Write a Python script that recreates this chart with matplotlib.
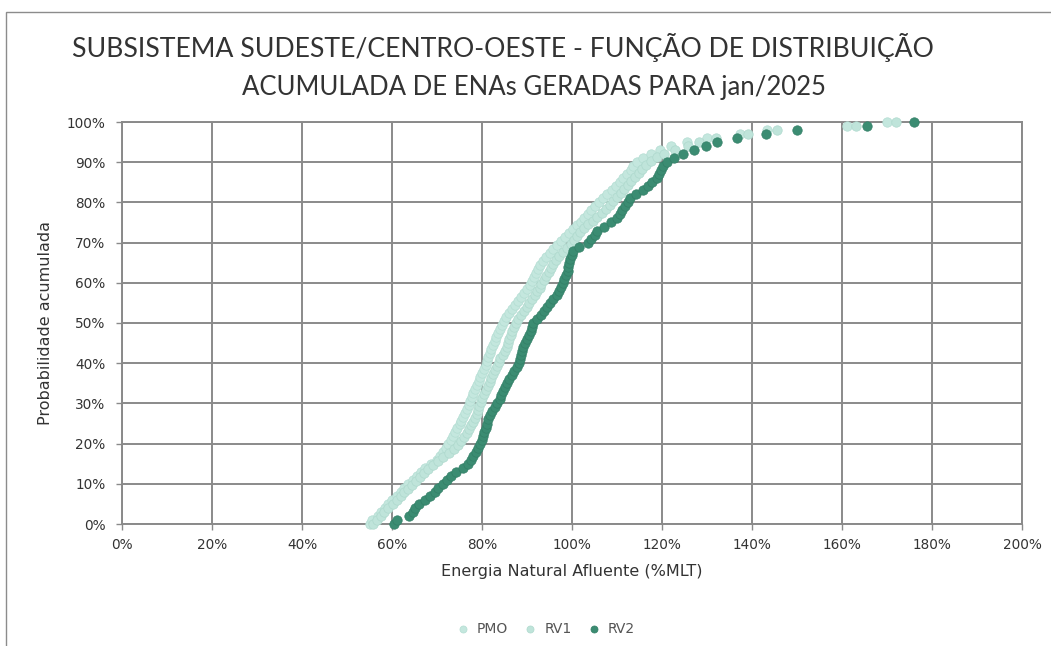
import numpy as np
import matplotlib.pyplot as plt
from matplotlib.patches import Rectangle

# valores de ENA (%MLT) ordenados, um por cenário
pmo = [55.0, 55.6, 56.8, 57.6, 58.4, 59.2, 60.1, 61.0, 61.9, 62.7,
       63.6, 64.6, 65.6, 66.5, 67.4, 68.7, 69.9, 70.6, 71.3, 71.9,
       72.5, 73.0, 73.5, 74.0, 74.5, 75.0, 75.4, 75.8, 76.2, 76.6,
       77.0, 77.4, 77.8, 78.1, 78.5, 78.9, 79.3, 79.6, 80.0, 80.4,
       80.8, 81.1, 81.4, 81.8, 82.1, 82.4, 82.8, 83.2, 83.6, 84.0,
       84.4, 84.8, 85.4, 86.0, 86.6, 87.3, 87.9, 88.6, 89.3, 90.0,
       90.6, 91.1, 91.6, 92.0, 92.4, 92.9, 93.5, 94.2, 95.0, 95.8,
       96.6, 97.6, 98.5, 99.4, 100.3, 101.2, 101.9, 102.7, 103.5, 104.3,
       105.2, 106.1, 106.9, 107.8, 108.8, 109.7, 110.6, 111.4, 112.2, 113.0,
       113.5, 114.5, 115.8, 117.5, 119.6, 122.0, 125.5, 130.0, 137.3, 143.3,
       161.0, 170.0]
rv1 = [55.8, 56.6, 57.5, 58.3, 59.2, 60.2, 61.0, 61.9, 62.7, 63.6,
       64.5, 65.4, 66.3, 67.2, 68.1, 69.0, 70.2, 71.4, 72.6, 73.7,
       74.6, 75.3, 76.0, 76.6, 77.2, 77.6, 78.0, 78.4, 78.8, 79.1,
       79.4, 79.7, 80.1, 80.5, 80.9, 81.3, 81.7, 82.1, 82.5, 82.9,
       83.3, 83.7, 84.1, 84.6, 85.1, 85.5, 85.8, 86.1, 86.4, 86.7,
       87.0, 87.5, 88.1, 88.7, 89.3, 89.9, 90.5, 91.1, 91.7, 92.3,
       92.8, 93.2, 93.7, 94.2, 94.8, 95.3, 95.8, 96.4, 97.2, 98.1,
       98.9, 99.7, 100.4, 101.1, 101.8, 102.6, 103.6, 104.6, 105.6, 106.6,
       107.5, 108.4, 109.2, 110.0, 110.8, 111.6, 112.4, 113.2, 114.0, 114.8,
       115.6, 116.5, 117.5, 118.8, 120.5, 122.8, 125.8, 128.3, 132.0, 139.0,
       145.5, 163.0, 172.0]
rv2 = [60.5, 61.0, 63.8, 64.6, 65.2, 66.0, 67.3, 68.4, 69.5, 70.3,
       71.4, 72.2, 73.0, 74.2, 75.8, 76.8, 77.5, 78.1, 78.6, 79.1,
       79.5, 79.9, 80.2, 80.5, 80.8, 81.1, 81.4, 81.7, 82.3, 82.9,
       83.4, 83.9, 84.3, 84.7, 85.1, 85.5, 86.0, 86.7, 87.2, 87.7,
       88.2, 88.5, 88.7, 88.9, 89.1, 89.6, 90.1, 90.5, 90.8, 91.1,
       91.4, 92.2, 93.0, 93.7, 94.4, 95.0, 95.8, 96.6, 97.2, 97.6,
       97.9, 98.3, 98.7, 99.0, 99.2, 99.4, 99.6, 99.9, 100.3, 101.5,
       103.5, 104.3, 105.0, 105.6, 107.0, 108.6, 110.0, 110.6, 111.2, 111.8,
       112.4, 112.9, 114.3, 115.8, 116.8, 117.8, 118.9, 119.4, 119.8, 120.3,
       121.0, 122.6, 124.6, 127.2, 129.8, 132.2, 136.7, 143.0, 150.0, 165.5,
       176.0]

series = [("PMO", pmo, "#c4e7de", "#b3ddd2"),
          ("RV1", rv1, "#bfe4da", "#aed9cd"),
          ("RV2", rv2, "#3b8c72", "#337f67")]

x_ticks = np.arange(0, 201, 20)
y_ticks = np.arange(0, 101, 10)

fig = plt.figure(figsize=(10.51, 6.46), dpi=100)
fig.patches.append(Rectangle((6 / 1051, -0.01), 1.02, 1 - 12 / 646 + 0.01,
                             transform=fig.transFigure, fill=False,
                             edgecolor="#8c8c8c", linewidth=1.0))
ax = fig.add_axes([122 / 1051, 1 - 524 / 646, 900 / 1051, 402 / 646])

for nome, vals, cor, borda in series:
    x = np.asarray(vals)
    # probabilidade acumulada empírica (posição no ranking)
    y = np.arange(len(x)) / (len(x) - 1) * 100
    ax.scatter(x, y, s=46, color=cor, edgecolors=borda, linewidths=0.5,
               label=nome, zorder=3, clip_on=False)

ax.set_xlim(0, 200)
ax.set_ylim(0, 100)
ax.set_xticks(x_ticks)
ax.set_yticks(y_ticks)
ax.set_xticklabels([f"{v}%" for v in x_ticks])
ax.set_yticklabels([f"{v}%" for v in y_ticks])
ax.grid(True, color="#8a8a8a", linewidth=1.4)
ax.set_axisbelow(True)
for sp in ax.spines.values():
    sp.set_color("#8a8a8a")
    sp.set_linewidth(1.4)
ax.tick_params(axis="both", colors="#8a8a8a", labelcolor="#333333",
               labelsize=9.8, length=4, width=1.0)
ax.tick_params(axis="y", pad=8)
ax.tick_params(axis="x", pad=6)

ax.set_xlabel("Energia Natural Afluente (%MLT)", fontsize=11.5, color="#333333", labelpad=9)
ax.set_ylabel("Probabilidade acumulada", fontsize=11.5, color="#333333", labelpad=10)

fig.text(503 / 1051, 1 - 47 / 646,
         "SUBSISTEMA SUDESTE/CENTRO-OESTE - FUNÇÃO DE DISTRIBUIÇÃO",
         ha="center", va="center", fontsize=19.2, color="#333333", family="Lato")
fig.text(534 / 1051, 1 - 87 / 646,
         "ACUMULADA DE ENAs GERADAS PARA jan/2025",
         ha="center", va="center", fontsize=18.5, color="#333333", family="Lato")

fig.legend(loc="center", bbox_to_anchor=(542 / 1051, 1 - 629 / 646), ncol=3,
           frameon=False, fontsize=10, handletextpad=0.0, columnspacing=0.6,
           markerscale=0.75, labelcolor="#555555")

fig.savefig("out.png", dpi=100)
